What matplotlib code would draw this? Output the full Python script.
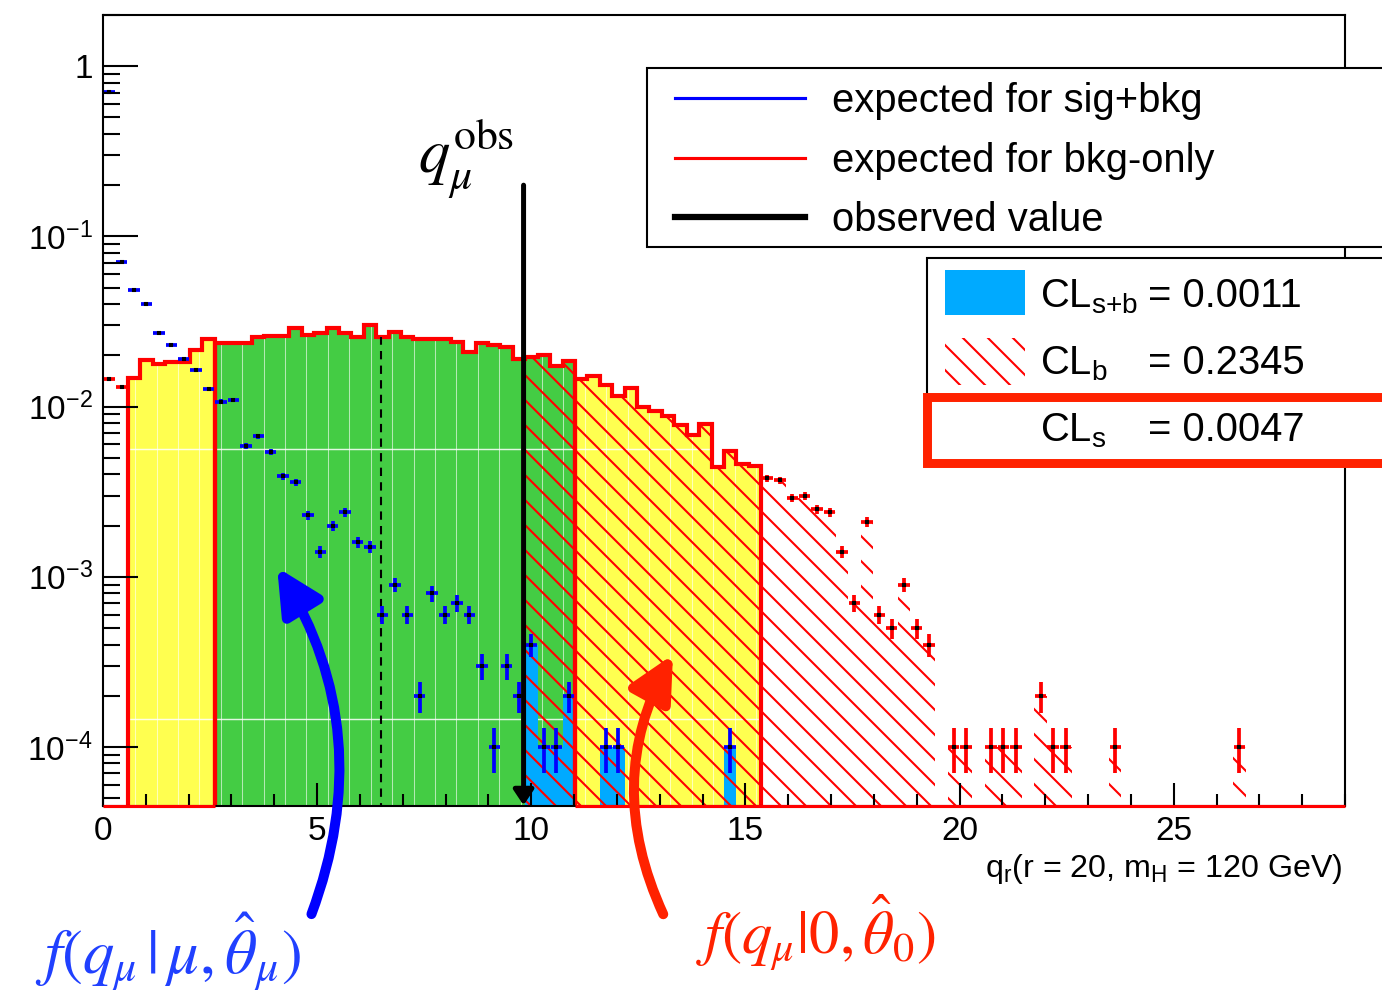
import numpy as np
import matplotlib
matplotlib.use("Agg")
import matplotlib.pyplot as plt
from matplotlib.patches import Rectangle, FancyArrowPatch
from matplotlib.lines import Line2D
from matplotlib.ticker import MultipleLocator, LogLocator, NullFormatter, FixedLocator, FuncFormatter

plt.rcParams["font.family"] = ["Liberation Sans", "DejaVu Sans"]
plt.rcParams["mathtext.fontset"] = "custom"
plt.rcParams["mathtext.rm"] = "Liberation Sans"
plt.rcParams["mathtext.it"] = "Liberation Sans:italic"
plt.rcParams["mathtext.bf"] = "Liberation Sans:bold"
plt.rcParams["hatch.linewidth"] = 1.0

# toy MC histograms: 100 bins of 0.29 in q, one toy = 1e-4
bin_width = 0.29
toy_weight = 1e-4

bkg_counts = [146, 130, 148, 187, 179, 183, 183, 214, 251, 238,
              238, 238, 257, 260, 260, 288, 265, 270, 288, 270,
              255, 302, 255, 273, 255, 248, 248, 248, 241, 208,
              236, 229, 225, 190, 196, 200, 173, 185, 145, 151,
              134, 115, 128, 99, 94, 88, 78, 68, 79, 44,
              55, 46, 45, 38, 37, 29, 30, 25, 24, 14,
              7, 21, 6, 5, 9, 5, 4, 0, 1, 1,
              0, 1, 1, 1, 0, 2, 1, 1, 0, 0,
              0, 1, 0, 0, 0, 0, 0, 0, 0, 0,
              0, 1, 0, 0, 0, 0, 0, 0, 0, 0]

sb_counts = [7060, 706, 482, 401, 270, 230, 190, 165, 127, 107,
             109, 59, 67, 54, 39, 36, 23, 14, 20, 24,
             16, 15, 6, 9, 6, 2, 8, 6, 7, 6,
             3, 1, 3, 2, 4, 1, 1, 2, 0, 0,
             1, 1, 0, 0, 0, 0, 0, 0, 0, 0,
             1, 0, 0, 0, 0, 0, 0, 0, 0, 0,
             0, 0, 0, 0, 0, 0, 0, 0, 0, 0,
             0, 0, 0, 0, 0, 0, 0, 0, 0, 0,
             0, 0, 0, 0, 0, 0, 0, 0, 0, 0,
             0, 0, 0, 0, 0, 0, 0, 0, 0, 0]

q_obs = 9.82
q_median = 6.48
cl_start_bin = 34
fill_regions = [(2, 9, "#ffff50"), (9, 38, "#44cc44"), (38, 53, "#ffff50")]

legend_labels = ["expected for sig+bkg", "expected for bkg-only", "observed value"]
legend_colors = ["#0000ff", "#ff0000", "black"]
cl_names = [r"CL$_{\rm s{+}b}$", r"CL$_{\rm b}$", r"CL$_{\rm s}$"]
cl_values = ["= 0.0011", "= 0.2345", "= 0.0047"]

n_bins = len(bkg_counts)
edges = np.arange(n_bins + 1) * bin_width
centers = edges[:-1] + bin_width / 2
bkg = np.array(bkg_counts) * toy_weight
sb = np.array(sb_counts) * toy_weight
bkg_err = 0.3 * np.sqrt(bkg_counts) * toy_weight
sb_err = 0.3 * np.sqrt(sb_counts) * toy_weight
idx = np.arange(n_bins)

ymin, ymax = 4.5e-5, 2.0
base = 1e-7

W, H = 1382, 1000
fig = plt.figure(figsize=(W / 150, H / 150), dpi=150)
fig.patch.set_facecolor("white")
ax = fig.add_axes([103 / W, 1 - 806 / H, 1242 / W, 791 / H])
ax.set_yscale("log")
ax.set_xlim(0, 29)
ax.set_ylim(ymin, ymax)

# filled regions of the bkg-only histogram
for lo, hi, col in fill_regions:
    ax.stairs(bkg[lo:hi], edges[lo:hi + 1], baseline=base, fill=True,
              facecolor=col, edgecolor="none", linewidth=0, zorder=1)

# faint white pattern lines inside the fill
clip = ax.stairs(bkg[2:53], edges[2:54], baseline=base, fill=True,
                 facecolor="none", edgecolor="none", linewidth=0, zorder=0.5)
hl = ax.hlines([5.6e-3, 1.46e-4], 0, 29, colors="white", linewidth=0.7, alpha=0.85, zorder=1.2)
hl.set_clip_path(clip)
vl = ax.vlines(np.arange(0.75, 15.4, 0.5), base, 10, colors="white", linewidth=0.5, alpha=0.6, zorder=1.2)
vl.set_clip_path(clip)

# CL_s+b region (blue) and CL_b region (red hatch)
ax.stairs(np.maximum(sb[cl_start_bin:], base), edges[cl_start_bin:], baseline=base, fill=True,
          facecolor="#00aaff", edgecolor="none", linewidth=0, zorder=1.5)
ax.stairs(np.maximum(bkg[cl_start_bin:], base), edges[cl_start_bin:], baseline=base, fill=True,
          facecolor="none", edgecolor="red", hatch="\\\\", linewidth=0, zorder=2)

# histogram outlines
for lo, hi, col in fill_regions:
    ax.stairs(bkg[lo:hi], edges[lo:hi + 1], baseline=base, fill=False,
              edgecolor="red", linewidth=2.0, zorder=3)
ax.hlines(ymin, 0, edges[9], colors="red", linewidth=1.5, zorder=6, clip_on=False)
ax.hlines(ymin, edges[38], 29, colors="red", linewidth=1.5, zorder=6, clip_on=False)

ax.vlines(q_median, base, bkg[int(q_median // bin_width)], colors="black",
          linestyles=(0, (4, 3)), linewidth=1.0, zorder=3)

# points with error bars
sb_show = sb > 0
ax.errorbar(centers[sb_show], sb[sb_show], xerr=0.46 * bin_width, yerr=sb_err[sb_show],
            fmt="none", ecolor="#0000ff", elinewidth=1.8, capsize=0, zorder=4)
ax.plot(centers[sb_show], sb[sb_show], "s", ms=1.0, color="black", zorder=4.2)

bkg_show = (bkg > 0) & ((idx < 2) | (idx >= 53))
ax.errorbar(centers[bkg_show], bkg[bkg_show], xerr=0.46 * bin_width, yerr=bkg_err[bkg_show],
            fmt="none", ecolor="red", elinewidth=1.8, capsize=0, zorder=4)
ax.plot(centers[bkg_show], bkg[bkg_show], "s", ms=1.0, color="black", zorder=4.2)

# observed value
ax.annotate("", xy=(q_obs, ymin * 1.01), xytext=(q_obs, 0.2),
            arrowprops=dict(arrowstyle="-|>,head_length=0.6,head_width=0.4", mutation_scale=10,
                            lw=2.4, color="black", shrinkA=0, shrinkB=0), zorder=4.5)

# axes styling
for sp in ax.spines.values():
    sp.set_linewidth(1.0)
    sp.set_zorder(5)
ax.xaxis.set_zorder(5)
ax.yaxis.set_zorder(5)
ax.xaxis.set_major_locator(MultipleLocator(5))
ax.xaxis.set_minor_locator(MultipleLocator(1))
ax.yaxis.set_major_locator(FixedLocator([1e-4, 1e-3, 1e-2, 1e-1, 1]))
ax.yaxis.set_major_formatter(FuncFormatter(
    lambda v, p: "1" if abs(v - 1) < 1e-9 else r"$10^{%d}$" % round(np.log10(v))))
ax.yaxis.set_minor_locator(LogLocator(base=10, subs=np.arange(2, 10), numticks=30))
ax.yaxis.set_minor_formatter(NullFormatter())
ax.tick_params(axis="both", which="both", direction="in", top=False, right=False, width=1.0)
ax.tick_params(axis="x", which="major", length=11, labelsize=16, pad=5)
ax.tick_params(axis="x", which="minor", length=5.8)
ax.tick_params(axis="y", which="major", length=16.8, labelsize=16, pad=5)
ax.tick_params(axis="y", which="minor", length=8.2)

fig.text(1343 / W, 1 - 877 / H, r"q$_{\rm r}$(r = 20, m$_{\rm H}$ = 120 GeV)",
         ha="right", va="baseline", fontsize=15.5)


def fig_rect(x0, y0, x1, y1, **kw):
    r = Rectangle((x0 / W, 1 - y1 / H), (x1 - x0) / W, (y1 - y0) / H,
                  transform=fig.transFigure, **kw)
    fig.add_artist(r)
    return r


# legend 1
fig_rect(647, 68, 1420, 247, facecolor="white", edgecolor="black", lw=1.0, zorder=10)
for lab, col, lw, y in zip(legend_labels, legend_colors, [1.5, 1.5, 3.0], [98, 158, 217]):
    fig.add_artist(Line2D([675 / W, 805 / W], [1 - y / H] * 2, color=col, lw=lw, zorder=11))
    fig.text(832 / W, 1 - (y + 14) / H, lab, fontsize=19.2, va="baseline", zorder=11)

# legend 2 (CL values)
fig_rect(927, 258, 1420, 400, facecolor="white", edgecolor="black", lw=1.0, zorder=10)
fig_rect(945, 270, 1025, 315, facecolor="#00aaff", edgecolor="none", lw=0, zorder=11)
fig_rect(945, 338, 1025, 385, facecolor="white", edgecolor="red", hatch="\\\\", lw=0, zorder=11)
fig_rect(926.5, 397.5, 1420, 462.5, facecolor="white", edgecolor="#ff2200", lw=4.3, zorder=12)
for name, val, y in zip(cl_names, cl_values, [307, 374, 441]):
    fig.text(1040 / W, 1 - y / H, name, fontsize=19.2, va="baseline", zorder=13)
    fig.text(1148 / W, 1 - y / H, val, fontsize=19.2, va="baseline", zorder=13)

# formula labels and arrows
fig.text(418 / W, 1 - 172 / H, r"$q_{\mu}^{\mathrm{obs}}$", fontsize=30,
         math_fontfamily="stix", zorder=13)
fig.text(35 / W, 1 - 974 / H, r"$f(q_{\mu}\,|\,\mu,\hat{\theta}_{\mu})$", fontsize=30,
         math_fontfamily="stix", color="#2040ff", zorder=13)
fig.text(696 / W, 1 - 954 / H, r"$f(q_{\mu}|0,\hat{\theta}_{0})$", fontsize=29,
         math_fontfamily="stix", color="#ff2200", zorder=13)

fig.add_artist(FancyArrowPatch((310 / W, 1 - 918 / H), (275 / W, 1 - 564 / H),
                               transform=fig.transFigure, connectionstyle="arc3,rad=0.25",
                               arrowstyle="-|>,head_length=1.8,head_width=0.9", mutation_scale=10,
                               lw=4.8, color="#0000ff", zorder=20))
fig.add_artist(FancyArrowPatch((665 / W, 1 - 918 / H), (675 / W, 1 - 651 / H),
                               transform=fig.transFigure, connectionstyle="arc3,rad=-0.26",
                               arrowstyle="-|>,head_length=1.8,head_width=0.9", mutation_scale=10,
                               lw=4.8, color="#ff2200", zorder=20))

fig.savefig("out.png", dpi=150)
